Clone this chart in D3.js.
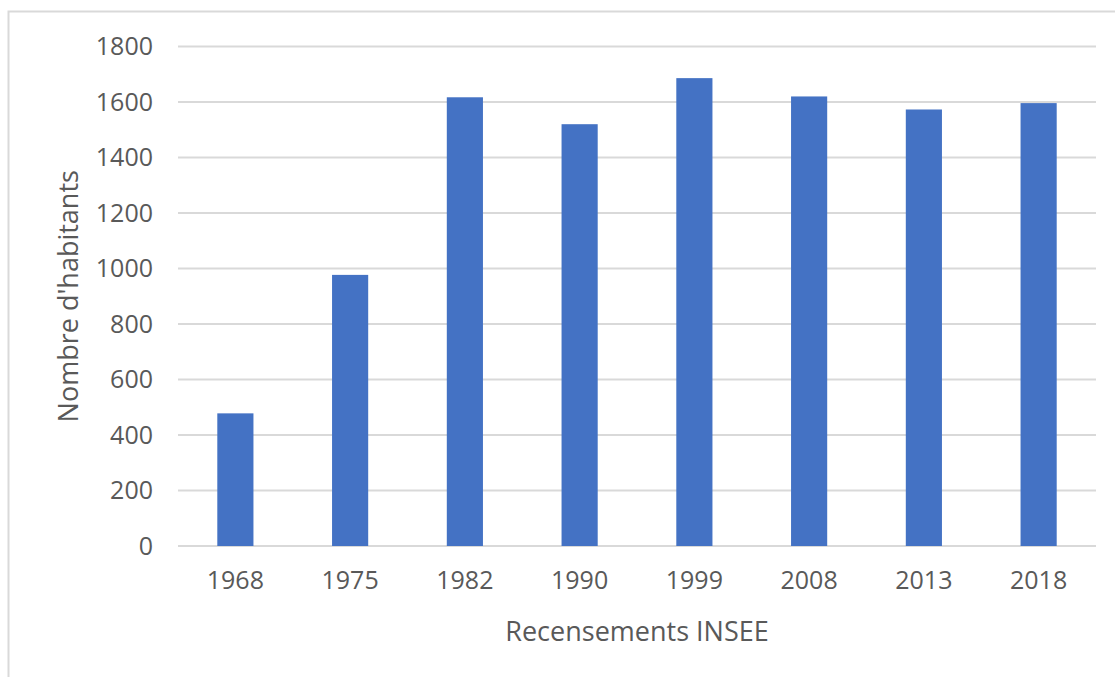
<!DOCTYPE html>
<html>
<head>
<meta charset="utf-8">
<script src="https://cdn.jsdelivr.net/npm/d3@7"></script>
<style>
  body { margin: 0; background: #fff; }
  text { font-family: "Open Sans", sans-serif; fill: #595959; }
</style>
</head>
<body>
<div id="chart"></div>
<script>
var years = ["1968", "1975", "1982", "1990", "1999", "2008", "2013", "2018"];
var habitants = [478, 977, 1617, 1520, 1686, 1620, 1573, 1596];
var yTicks = [0, 200, 400, 600, 800, 1000, 1200, 1400, 1600, 1800];

var W = 1115, H = 677;
var margin = {top: 46.5, right: 19, bottom: 131, left: 178};
var width = W - margin.left - margin.right,
    height = H - margin.top - margin.bottom;

var svg = d3.select("#chart").append("svg")
    .attr("width", W)
    .attr("height", H);

// chart frame
svg.append("rect")
    .attr("x", 8.5).attr("y", 11.5)
    .attr("width", W + 20).attr("height", H + 20)
    .style("fill", "none")
    .style("stroke", "#d9d9d9")
    .style("stroke-width", 2);

var g = svg.append("g")
    .attr("transform", "translate(" + margin.left + "," + margin.top + ")");

var x = d3.scaleBand()
    .domain(years)
    .range([0, width])
    .paddingInner(0.685)
    .paddingOuter(0.3425);

var y = d3.scaleLinear()
    .domain([0, 1800])
    .range([height, 0]);

// gridlines
g.append("g")
    .attr("class", "grid")
    .selectAll("line")
    .data(yTicks)
    .enter().append("line")
    .attr("x1", 0)
    .attr("x2", width)
    .attr("y1", d => y(d))
    .attr("y2", d => y(d))
    .style("stroke", "#d9d9d9")
    .style("stroke-width", 2);

// y axis labels
var yAxis = g.append("g")
    .call(d3.axisLeft(y).tickValues(yTicks).tickSize(0).tickPadding(25).tickFormat(d3.format("d")));
yAxis.select(".domain").remove();
yAxis.selectAll("text")
    .style("font-size", "25px")
    .style("fill", "#595959");

// x axis labels
var xAxis = g.append("g")
    .attr("transform", "translate(0," + height + ")")
    .call(d3.axisBottom(x).tickSize(0).tickPadding(25));
xAxis.select(".domain").remove();
xAxis.selectAll("text")
    .style("font-size", "25px")
    .style("fill", "#595959");

// bars
g.selectAll(".bar")
    .data(habitants)
    .enter().append("rect")
    .attr("class", "bar")
    .attr("x", (d, i) => x(years[i]))
    .attr("y", d => y(d))
    .attr("width", x.bandwidth())
    .attr("height", d => height - y(d))
    .style("fill", "#4472C4");

// axis titles
svg.append("text")
    .attr("transform", "translate(78," + (margin.top + height / 2) + ") rotate(-90)")
    .attr("text-anchor", "middle")
    .style("font-size", "27px")
    .text("Nombre d'habitants");

svg.append("text")
    .attr("x", margin.left + width / 2)
    .attr("y", 641)
    .attr("text-anchor", "middle")
    .style("font-size", "27px")
    .text("Recensements INSEE");
</script>
</body>
</html>
